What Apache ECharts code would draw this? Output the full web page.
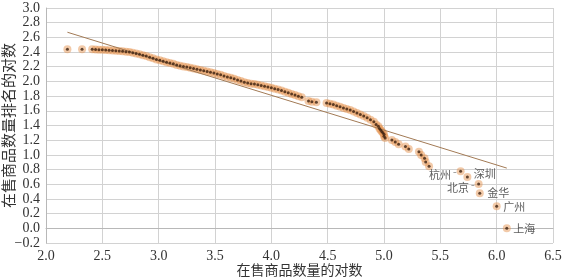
<!DOCTYPE html>
<html>
<head>
<meta charset="utf-8">
<script src="https://cdn.jsdelivr.net/npm/echarts@6/dist/echarts.min.js"></script>
<style>
  html, body { margin: 0; padding: 0; background: #fff; }
  #chart { width: 566px; height: 280px; }
</style>
</head>
<body>
<div id="chart"></div>
<script>
// 在售商品数量的对数 (x) 与 排名的对数 (y)
const logCount = [
  2.19, 2.32, 2.41, 2.44, 2.47, 2.50, 2.53, 2.56, 2.59, 2.62, 2.65, 2.68, 2.71, 2.74, 2.77,
  2.80, 2.83, 2.86, 2.89, 2.92, 2.95, 2.98, 3.01, 3.04, 3.07, 3.10, 3.13, 3.16, 3.19, 3.22,
  3.25, 3.28, 3.31, 3.34, 3.37, 3.40, 3.43, 3.46, 3.49, 3.52, 3.55, 3.58, 3.61, 3.64, 3.67,
  3.70, 3.73, 3.76, 3.79, 3.82, 3.85, 3.88, 3.91, 3.94, 3.97, 4.00, 4.03, 4.06, 4.09, 4.12,
  4.15, 4.18, 4.21, 4.24, 4.27, 4.33, 4.36, 4.40, 4.49, 4.52, 4.55, 4.58, 4.61, 4.64, 4.67,
  4.70, 4.73, 4.76, 4.79, 4.82, 4.85, 4.88, 4.91, 4.93, 4.95, 4.96, 4.97, 4.98, 4.99, 5.00,
  5.00, 5.01, 5.07, 5.10, 5.13, 5.19, 5.22, 5.31, 5.33, 5.36, 5.37, 5.40
];
const logRank = [
  2.44, 2.44, 2.44, 2.435, 2.432, 2.43, 2.427, 2.424, 2.42, 2.417, 2.414, 2.41, 2.405, 2.40, 2.39,
  2.38, 2.37, 2.355, 2.345, 2.33, 2.315, 2.30, 2.29, 2.275, 2.26, 2.25, 2.24, 2.225, 2.215, 2.205,
  2.195, 2.185, 2.175, 2.165, 2.155, 2.145, 2.135, 2.125, 2.115, 2.10, 2.09, 2.075, 2.06, 2.05, 2.035,
  2.02, 2.005, 1.99, 1.98, 1.97, 1.965, 1.955, 1.945, 1.935, 1.925, 1.915, 1.90, 1.89, 1.875, 1.86,
  1.845, 1.83, 1.815, 1.80, 1.785, 1.735, 1.725, 1.715, 1.705, 1.695, 1.685, 1.67, 1.655, 1.64, 1.625,
  1.61, 1.59, 1.57, 1.55, 1.53, 1.505, 1.48, 1.45, 1.415, 1.39, 1.36, 1.34, 1.32, 1.30, 1.28,
  1.255, 1.23, 1.204, 1.176, 1.146, 1.114, 1.079, 1.041, 1.0, 0.954, 0.903, 0.845
];

// 标注的城市
const cityNames = ['杭州', '深圳', '北京', '金华', '广州', '上海'];
const cityX = [5.68, 5.74, 5.84, 5.85, 6.00, 6.09];
const cityY = [0.778, 0.699, 0.602, 0.477, 0.301, 0.0];

// 趋势线
const trendX = [2.19, 6.09];
const trendY = [2.67, 0.82];

const serif = 'Liberation Serif, Times New Roman, DejaVu Serif, serif';
const cjk = 'Noto Sans CJK SC, sans-serif';

const points = logCount.map((x, i) => [x, logRank[i]]);
const cities = cityX.map((x, i) => [x, cityY[i]]);

// 标签位置，杭州、北京带一小段引线
const labelPos = {
  '杭州': { position: 'left', distance: 2, offset: [0, 4], formatter: '杭州\u2009\u207b' },
  '深圳': { position: 'right', distance: 5, offset: [0, -3], formatter: '深圳' },
  '北京': { position: 'left', distance: 2, offset: [0, 4], formatter: '北京\u2009\u207b' },
  '金华': { position: 'right', distance: 5, offset: [1, 0], formatter: '金华' },
  '广州': { position: 'right', distance: 5, offset: [0, 1], formatter: '广州' },
  '上海': { position: 'right', distance: 5, offset: [0, 0], formatter: '上海' }
};

const haloStyle = { color: 'rgba(228, 145, 75, 0.6)' };
const coreStyle = { color: '#3b2110' };

const chart = echarts.init(document.getElementById('chart'));
chart.setOption({
  animation: false,
  grid: { left: 46, right: 13, top: 8, bottom: 37, outerBoundsMode: 'none', containLabel: false },
  xAxis: {
    type: 'value',
    min: 2.0,
    max: 6.5,
    interval: 0.5,
    name: '在售商品数量的对数',
    nameLocation: 'middle',
    nameGap: 20,
    nameMoveOverlap: false,
    nameTextStyle: { fontFamily: cjk, fontSize: 14, color: '#333' },
    axisLine: { show: true, lineStyle: { color: '#b8b8b8' } },
    axisTick: { show: false },
    axisLabel: {
      fontFamily: serif, fontSize: 14, color: '#333', margin: 6,
      formatter: v => v.toFixed(1)
    },
    splitLine: { show: true, lineStyle: { color: '#d2d2d2', width: 1 } }
  },
  yAxis: {
    type: 'value',
    min: -0.2,
    max: 3.0,
    interval: 0.2,
    name: '在售商品数量排名的对数',
    nameLocation: 'middle',
    nameGap: 30,
    nameMoveOverlap: false,
    nameRotate: 90,
    nameTextStyle: { fontFamily: cjk, fontSize: 15, color: '#333' },
    axisLine: { show: true, lineStyle: { color: '#b8b8b8' } },
    axisTick: { show: false },
    axisLabel: {
      fontFamily: serif, fontSize: 14, color: '#333', margin: 6,
      formatter: v => (v < 0 ? '\u2212' + Math.abs(v).toFixed(1) : v.toFixed(1))
    },
    splitLine: { show: true, lineStyle: { color: '#d2d2d2', width: 1 } }
  },
  series: [
    {
      type: 'scatter',
      data: points.concat(cities),
      symbolSize: 8,
      itemStyle: haloStyle,
      silent: true,
      z: 2
    },
    {
      type: 'line',
      data: trendX.map((x, i) => [x, trendY[i]]),
      showSymbol: false,
      lineStyle: { color: '#a27a55', width: 1 },
      z: 3
    },
    {
      type: 'scatter',
      data: points,
      symbolSize: 3,
      itemStyle: coreStyle,
      z: 4
    },
    {
      type: 'scatter',
      data: cities.map((p, i) => ({
        value: p,
        name: cityNames[i],
        label: Object.assign({ show: true }, labelPos[cityNames[i]])
      })),
      symbolSize: 3,
      itemStyle: coreStyle,
      label: { fontFamily: cjk, fontSize: 11, color: '#333' },
      z: 5
    }
  ]
});
</script>
</body>
</html>
